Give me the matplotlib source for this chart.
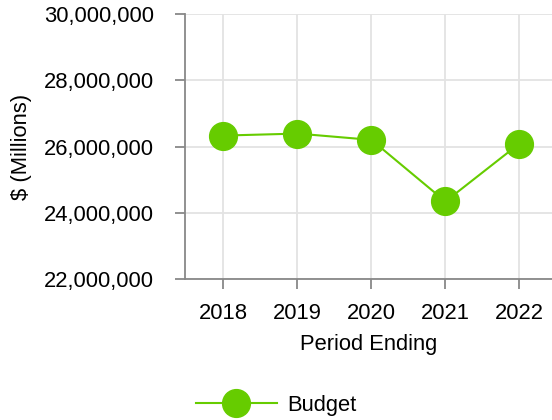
import matplotlib
matplotlib.use('agg')
import matplotlib.pyplot as plt
from matplotlib.ticker import FuncFormatter, MultipleLocator

years = ['2018', '2019', '2020', '2021', '2022']
budget = [26330000, 26390000, 26200000, 24340000, 26090000]

plt.rcParams['font.family'] = ['Liberation Sans', 'DejaVu Sans']
plt.rcParams['font.size'] = 15.8

green = '#66cc00'
grey = '#888888'

fig = plt.figure(figsize=(5.52, 4.2), dpi=100)
# axes placement in pixels: left 185, right 552, top 14, bottom 279
ax = fig.add_axes([185 / 552, 1 - 279 / 420, (552 - 185) / 552, (279 - 14) / 420])

x = range(len(years))
ax.plot(x, budget, color=green, linewidth=1.5, marker='o', markersize=20,
        label='Budget', zorder=3, clip_on=False)

ax.set_xlim(-0.52, 4.44)
ax.set_ylim(22000000, 30000000)
ax.yaxis.set_major_locator(MultipleLocator(2000000))
ax.yaxis.set_major_formatter(FuncFormatter(lambda v, p: f'{int(v):,}'))
ax.set_xticks(list(x))
ax.set_xticklabels(years)

ax.grid(True, color='#e3e3e3', linewidth=1.3)
ax.set_axisbelow(True)

for side in ['top', 'right']:
    ax.spines[side].set_visible(False)
for side in ['left', 'bottom']:
    ax.spines[side].set_color(grey)
    ax.spines[side].set_linewidth(1.3)

ax.tick_params(axis='both', color=grey, length=7.2, width=1.3)
ax.tick_params(axis='y', pad=15)
ax.tick_params(axis='x', pad=10)

ax.set_xlabel('Period Ending', labelpad=7)
ax.set_ylabel('$ (Millions)', labelpad=9)

fig.legend(loc='center', bbox_to_anchor=(0.5, 1 - 405 / 420), frameon=False,
           handlelength=3.7, handletextpad=0.46, markerscale=1.0)

fig.savefig('out.png', dpi=100)
plt.close(fig)
